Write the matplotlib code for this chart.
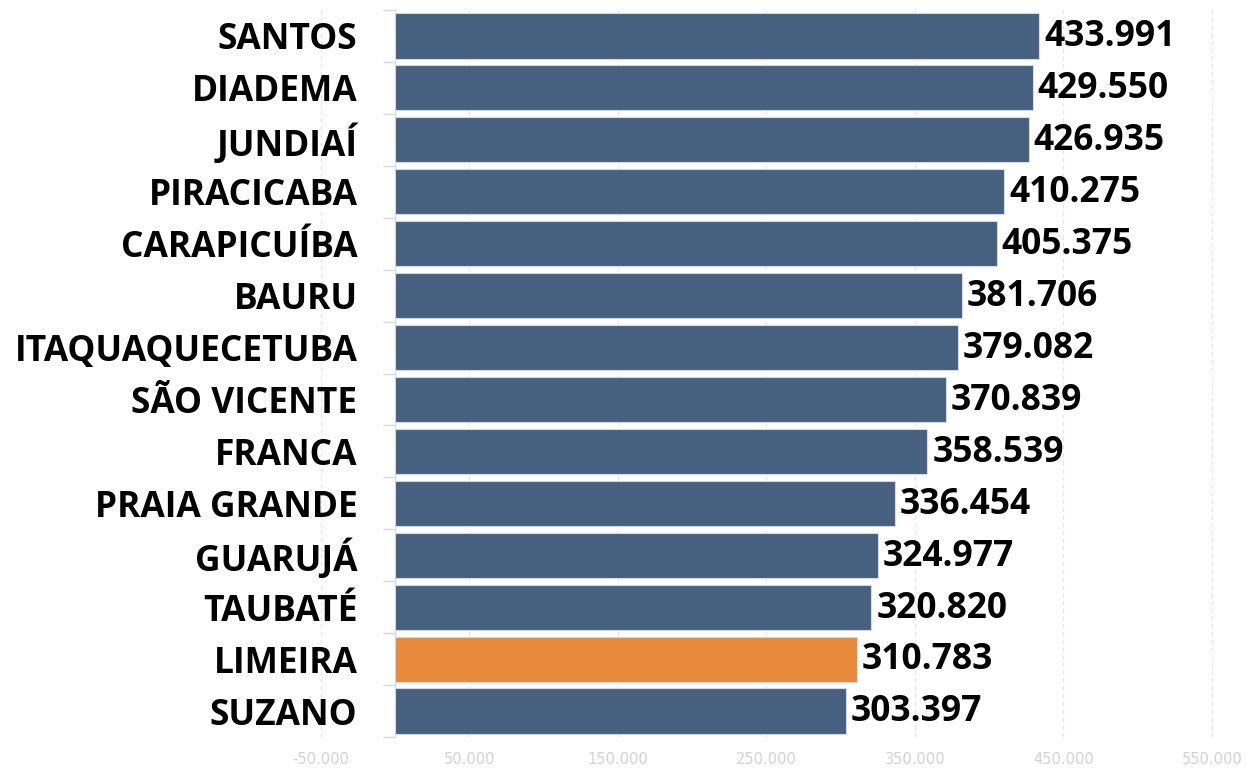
import numpy as np
import matplotlib
matplotlib.use('Agg')
import matplotlib.pyplot as plt
from matplotlib.ticker import FixedLocator, FuncFormatter

cities = ["SANTOS", "DIADEMA", "JUNDIAÍ", "PIRACICABA", "CARAPICUÍBA", "BAURU",
          "ITAQUAQUECETUBA", "SÃO VICENTE", "FRANCA", "PRAIA GRANDE", "GUARUJÁ",
          "TAUBATÉ", "LIMEIRA", "SUZANO"]
population = [433991, 429550, 426935, 410275, 405375, 381706, 379082,
              370839, 358539, 336454, 324977, 320820, 310783, 303397]
highlight = "LIMEIRA"
xticks = [-50000, 50000, 150000, 250000, 350000, 450000, 550000]

blue = '#46607F'
orange = '#E8893B'
grid_gray = '#e6e6e6'
axis_gray = '#d9d9d9'


def br_fmt(v):
    s = f"{abs(v):,.0f}".replace(',', '.')
    return ('-' if v < 0 else '') + s


fig = plt.figure(figsize=(12.47, 7.68), dpi=100)
W, H = 1247, 768
x0_px, px_per_unit = 395, 1.485 / 1000
top_px, bot_px = 10, 737
ax = fig.add_axes([0, (H - bot_px) / H, 1, (bot_px - top_px) / H])

n = len(cities)
y = np.arange(n)
colors = [orange if c == highlight else blue for c in cities]
ax.barh(y, population, height=0.87, color=colors, edgecolor='#d5dae2',
        linewidth=0.8, zorder=3)

for yi, v in zip(y, population):
    ax.annotate(br_fmt(v), (v, yi), xytext=(3.5, -1), textcoords='offset points',
                va='center', ha='left', fontsize=25.5, fontweight='bold',
                family='Open Sans', color='black')

ax.set_xlim(-x0_px / px_per_unit, (W - x0_px) / px_per_unit)
ax.set_ylim(n - 0.5, -0.5)

# x axis
ax.xaxis.set_major_locator(FixedLocator(xticks))
ax.xaxis.set_major_formatter(FuncFormatter(lambda v, p: br_fmt(v)))
ax.tick_params(axis='x', length=0, pad=11, labelsize=10.5, labelcolor='#d3d3d3')
ax.grid(axis='x', color=grid_gray, linestyle=(0, (4, 3)), linewidth=0.8, zorder=0)

# y axis at zero with ticks between categories
ax.spines['left'].set_position(('data', 0))
ax.spines['left'].set_color(axis_gray)
for s in ['top', 'right', 'bottom']:
    ax.spines[s].set_visible(False)
ax.set_yticks(y)
ax.set_yticklabels(cities, fontsize=25.5, fontweight='bold', family='Open Sans')
ax.set_yticks(np.arange(n + 1) - 0.5, minor=True)
ax.tick_params(axis='y', which='major', length=0, pad=27)
ax.tick_params(axis='y', which='minor', length=9, color=axis_gray, width=1)

fig.savefig('out.png', dpi=100)
